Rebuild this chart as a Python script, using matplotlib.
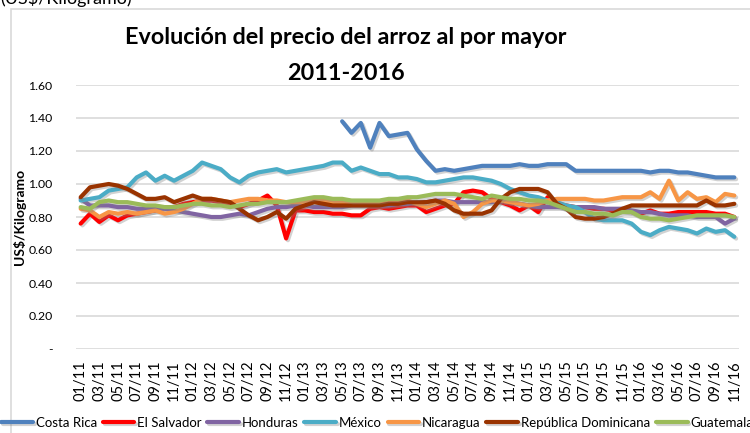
import numpy as np
import matplotlib
matplotlib.use("Agg")
import matplotlib.pyplot as plt
import matplotlib.patheffects as pe
from matplotlib.patches import Rectangle

plt.rcParams['font.family'] = ['Lato', 'DejaVu Sans']

# months 01/11 .. 11/16
months = [f"{m:02d}/{y:02d}" for y in range(11, 17) for m in range(1, 13)][:71]

costa_rica = [None] * 28 + [
    1.38, 1.31, 1.37, 1.22, 1.37, 1.29, 1.30, 1.31,
    1.21, 1.14, 1.08, 1.09, 1.08, 1.09, 1.10, 1.11, 1.11, 1.11, 1.11, 1.12,
    1.11, 1.11, 1.12, 1.12, 1.12, 1.08, 1.08, 1.08, 1.08, 1.08, 1.08, 1.08,
    1.08, 1.07, 1.08, 1.08, 1.07, 1.07, 1.06, 1.05, 1.04, 1.04, 1.04]
el_salvador = [
    0.76, 0.82, 0.77, 0.81, 0.78, 0.81, 0.82, 0.83, 0.84, 0.86, 0.86, 0.88,
    0.89, 0.90, 0.90, 0.89, 0.88, 0.86, 0.88, 0.90, 0.93, 0.87, 0.67, 0.84,
    0.84, 0.83, 0.83, 0.82, 0.82, 0.81, 0.81, 0.85, 0.86, 0.85, 0.86, 0.87,
    0.87, 0.83, 0.85, 0.87, 0.88, 0.95, 0.96, 0.95, 0.91, 0.89, 0.87, 0.84,
    0.87, 0.83, 0.92, 0.88, 0.87, 0.86, 0.86, 0.85, 0.85, 0.84, 0.84, 0.83,
    0.82, 0.84, 0.82, 0.82, 0.83, 0.83, 0.83, 0.83, 0.82, 0.82, 0.80]
honduras = [
    0.91, 0.87, 0.87, 0.87, 0.86, 0.86, 0.85, 0.85, 0.85, 0.85, 0.84, 0.83,
    0.82, 0.81, 0.80, 0.80, 0.81, 0.82, 0.81, 0.83, 0.85, 0.86, 0.86, 0.87,
    0.87, 0.86, 0.86, 0.86, 0.86, 0.87, 0.87, 0.87, 0.87, 0.87, 0.88, 0.88,
    0.89, 0.89, 0.90, 0.90, 0.89, 0.89, 0.89, 0.89, 0.89, 0.90, 0.89, 0.88,
    0.87, 0.86, 0.86, 0.86, 0.86, 0.86, 0.86, 0.86, 0.85, 0.85, 0.85, 0.84,
    0.83, 0.83, 0.82, 0.81, 0.81, 0.81, 0.80, 0.80, 0.80, 0.76, 0.79]
mexico = [
    0.90, 0.91, 0.92, 0.96, 0.97, 0.98, 1.04, 1.07, 1.02, 1.05, 1.02, 1.05,
    1.08, 1.13, 1.11, 1.09, 1.04, 1.01, 1.05, 1.07, 1.08, 1.09, 1.07, 1.08,
    1.09, 1.10, 1.11, 1.13, 1.13, 1.08, 1.10, 1.08, 1.06, 1.06, 1.04, 1.04,
    1.03, 1.01, 1.01, 1.02, 1.03, 1.04, 1.04, 1.03, 1.02, 1.00, 0.97, 0.95,
    0.93, 0.92, 0.90, 0.89, 0.87, 0.86, 0.83, 0.79, 0.78, 0.78, 0.78, 0.76,
    0.71, 0.69, 0.72, 0.74, 0.73, 0.72, 0.70, 0.73, 0.71, 0.72, 0.68]
nicaragua = [
    0.85, 0.84, 0.80, 0.83, 0.82, 0.83, 0.82, 0.83, 0.84, 0.82, 0.83, 0.85,
    0.88, 0.91, 0.91, 0.90, 0.89, 0.90, 0.91, 0.91, 0.90, 0.90, 0.89, 0.89,
    0.89, 0.90, 0.90, 0.89, 0.89, 0.89, 0.89, 0.89, 0.89, 0.90, 0.90, 0.90,
    0.88, 0.86, 0.88, 0.90, 0.88, 0.80, 0.83, 0.88, 0.90, 0.90, 0.89, 0.88,
    0.87, 0.88, 0.90, 0.91, 0.91, 0.91, 0.91, 0.90, 0.90, 0.91, 0.92, 0.92,
    0.92, 0.95, 0.91, 1.02, 0.90, 0.95, 0.91, 0.92, 0.89, 0.94, 0.93]
rep_dominicana = [
    0.92, 0.98, 0.99, 1.00, 0.99, 0.97, 0.94, 0.91, 0.91, 0.92, 0.89, 0.91,
    0.93, 0.91, 0.91, 0.90, 0.89, 0.85, 0.81, 0.78, 0.80, 0.83, 0.79, 0.85,
    0.87, 0.89, 0.88, 0.87, 0.87, 0.87, 0.87, 0.87, 0.87, 0.88, 0.88, 0.89,
    0.89, 0.89, 0.90, 0.88, 0.84, 0.82, 0.82, 0.82, 0.84, 0.91, 0.95, 0.97,
    0.97, 0.97, 0.95, 0.88, 0.85, 0.80, 0.79, 0.79, 0.80, 0.82, 0.85, 0.87,
    0.87, 0.87, 0.87, 0.87, 0.87, 0.87, 0.87, 0.90, 0.87, 0.87, 0.88]
guatemala = [
    0.86, 0.85, 0.89, 0.90, 0.89, 0.89, 0.88, 0.87, 0.87, 0.86, 0.86, 0.87,
    0.88, 0.88, 0.87, 0.87, 0.86, 0.87, 0.88, 0.88, 0.89, 0.89, 0.89, 0.90,
    0.91, 0.92, 0.92, 0.91, 0.91, 0.90, 0.90, 0.90, 0.90, 0.91, 0.91, 0.92,
    0.92, 0.93, 0.94, 0.94, 0.94, 0.93, 0.92, 0.91, 0.93, 0.92, 0.91, 0.91,
    0.90, 0.90, 0.89, 0.87, 0.85, 0.83, 0.83, 0.82, 0.82, 0.81, 0.83, 0.83,
    0.80, 0.79, 0.79, 0.78, 0.79, 0.80, 0.81, 0.81, 0.81, 0.81, 0.80]

series = [
    ("Costa Rica", costa_rica, "#4F81BD"),
    ("El Salvador", el_salvador, "#FF0000"),
    ("Honduras", honduras, "#8064A2"),
    ("México", mexico, "#4BACC6"),
    ("Nicaragua", nicaragua, "#F79646"),
    ("República Dominicana", rep_dominicana, "#993300"),
    ("Guatemala", guatemala, "#9BBB59"),
]

fig = plt.figure(figsize=(7.5, 4.33), dpi=100)
ax = fig.add_axes([76 / 750, 1 - 349 / 433, 663 / 750, 264 / 433])

x = np.arange(len(months))
shadow = [pe.SimpleLineShadow(offset=(1.3, -1.3), shadow_color="gray", alpha=0.35),
          pe.Normal()]
for name, vals, col in series:
    y = np.array([np.nan if v is None else v for v in vals], dtype=float)
    ax.plot(x, y, color=col, lw=3.0, label=name, solid_capstyle="round",
            solid_joinstyle="round", path_effects=shadow)

ax.set_xlim(-0.5, len(months) - 0.5)
ax.set_ylim(0, 1.6)
yt = np.arange(0, 1.61, 0.2)
ax.set_yticks(yt)
ax.set_yticklabels(["-"] + [f"{v:.2f}" for v in yt[1:]], fontsize=8.8)
ax.set_xticks(x[::2])
ax.set_xticklabels(months[::2], rotation=90, fontsize=10.5)
ax.tick_params(axis="y", length=0, pad=17)
ax.tick_params(axis="x", length=0, pad=8)
ax.grid(axis="y", color="#D9D9D9", lw=1.2)
ax.set_axisbelow(True)
for s in ax.spines.values():
    s.set_visible(False)

ax.set_ylabel("US$/Kilogramo", fontsize=10, fontweight="bold")
ax.yaxis.set_label_coords(-50 / 663, 0.5)

fig.text(346 / 750, 1 - 38 / 433, "Evolución del precio del arroz al por mayor",
         ha="center", va="center", fontsize=16.8, fontweight="bold")
fig.text(346 / 750, 1 - 73 / 433, "2011-2016",
         ha="center", va="center", fontsize=16.8, fontweight="bold")
fig.text(0, 1 - 4 / 433, "(US$/Kilogramo)", ha="left", va="baseline",
         fontsize=13)

fig.patches.append(Rectangle((11 / 750, -0.05), 740 / 750, 1.05 - 9 / 433,
                             transform=fig.transFigure, fill=False,
                             edgecolor="#D9D9D9", lw=1.2))

fig.legend(loc="center", bbox_to_anchor=(0.503, 1 - 423 / 433), ncol=7,
           fontsize=9.5, frameon=False, handlelength=2.4, handletextpad=0.2,
           columnspacing=0.45, borderpad=0, borderaxespad=0)

fig.savefig("out.png", dpi=100)
